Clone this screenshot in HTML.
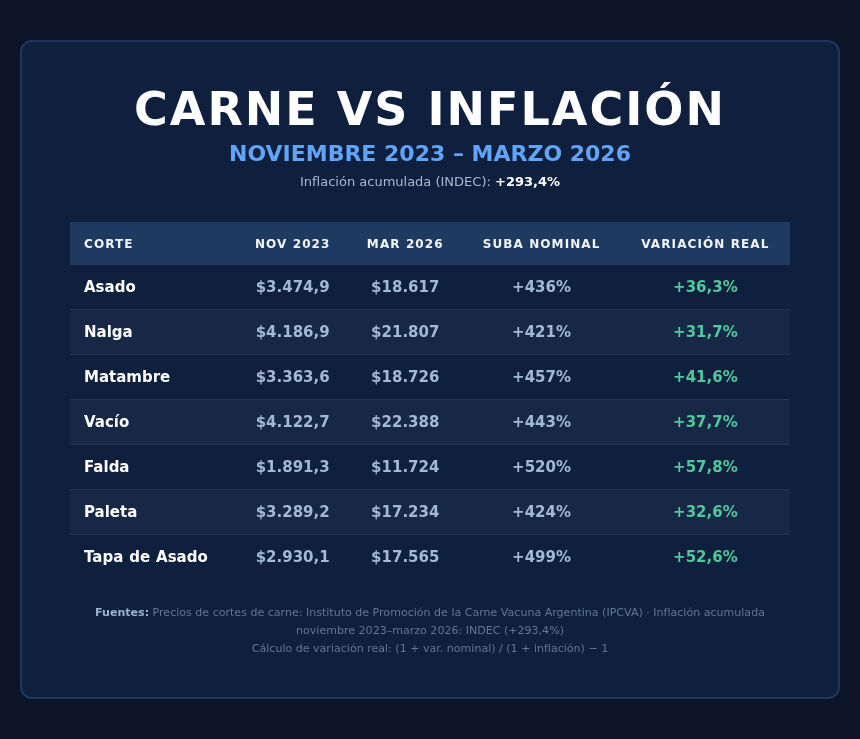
<!DOCTYPE html>
<html lang="es">
<head>
<meta charset="utf-8">
<title>Carne vs Inflación</title>
<style>
*{box-sizing:border-box;margin:0;padding:0}
html,body{width:860px;height:739px;overflow:hidden}
body{background:#0b1527;font-family:"DejaVu Sans","Liberation Sans",sans-serif;color:#fff}
.card{position:absolute;left:20px;top:40px;width:820px;height:659px;background:#0e203e;border:2px solid #1f375d;border-radius:12px;padding:0 48px}
h1{font-size:46px;font-weight:bold;letter-spacing:2px;text-align:center;margin-top:38.5px;line-height:56px;color:#fff}
h2{font-size:22px;font-weight:bold;text-align:center;color:#60a5fa;line-height:26px;margin-top:4px}
.sub{font-size:13px;text-align:center;color:#a9b8d0;line-height:18px;margin-top:6px}
.sub b{color:#fff}
table{width:720px;table-layout:fixed;border-collapse:separate;border-spacing:0;margin-top:31.5px}
th{background:#1f3a60;height:43px;font-size:12px;font-weight:bold;letter-spacing:1.1px;color:#f1f5f9;text-align:center;padding:0 4px}
th:first-child,td:first-child{text-align:left;padding-left:14px}
td{height:45px;font-size:15px;font-weight:bold;text-align:center;color:#a3b7d6;padding:0 4px;border-bottom:1px solid #213454}
tbody tr:last-child td{border-bottom:none;height:44px}
tr:nth-child(even) td{background:#172846}
td:first-child{color:#fff;word-spacing:0.7px}
td:last-child{color:#4fc99a}
.foot{font-size:11.05px;line-height:18px;text-align:center;color:#617694;margin-top:25px}
.foot b{color:#9db1d0}
</style>
</head>
<body>
<div class="card">
<h1>CARNE VS INFLACIÓN</h1>
<h2>NOVIEMBRE 2023 – MARZO 2026</h2>
<div class="sub">Inflación acumulada (INDEC): <b>+293,4%</b></div>
<table>
<colgroup><col style="width:167.2px"><col style="width:111px"><col style="width:114.2px"><col style="width:158.4px"><col style="width:169.2px"></colgroup>
<thead><tr><th>CORTE</th><th>NOV 2023</th><th>MAR 2026</th><th>SUBA NOMINAL</th><th>VARIACIÓN REAL</th></tr></thead>
<tbody>
<tr><td>Asado</td><td>$3.474,9</td><td>$18.617</td><td>+436%</td><td>+36,3%</td></tr>
<tr><td>Nalga</td><td>$4.186,9</td><td>$21.807</td><td>+421%</td><td>+31,7%</td></tr>
<tr><td>Matambre</td><td>$3.363,6</td><td>$18.726</td><td>+457%</td><td>+41,6%</td></tr>
<tr><td>Vacío</td><td>$4.122,7</td><td>$22.388</td><td>+443%</td><td>+37,7%</td></tr>
<tr><td>Falda</td><td>$1.891,3</td><td>$11.724</td><td>+520%</td><td>+57,8%</td></tr>
<tr><td>Paleta</td><td>$3.289,2</td><td>$17.234</td><td>+424%</td><td>+32,6%</td></tr>
<tr><td>Tapa de Asado</td><td>$2.930,1</td><td>$17.565</td><td>+499%</td><td>+52,6%</td></tr>
</tbody>
</table>
<div class="foot"><b>Fuentes:</b> Precios de cortes de carne: Instituto de Promoción de la Carne Vacuna Argentina (IPCVA) · Inflación acumulada noviembre 2023–marzo 2026: INDEC (+293,4%)<br>Cálculo de variación real: (1 + var. nominal) / (1 + inflación) − 1</div>
</div>
</body>
</html>
